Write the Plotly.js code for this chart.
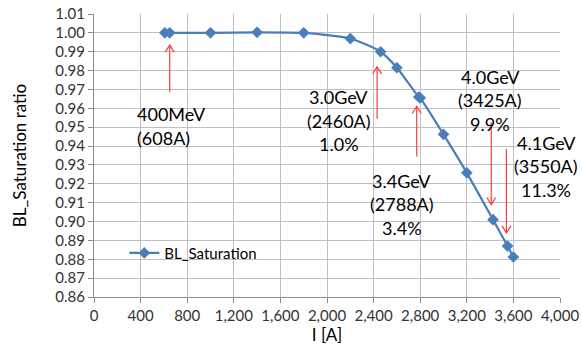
<!DOCTYPE html>
<html>
<head>
<meta charset="utf-8">
<script src="https://cdn.plot.ly/plotly-3.0.1.min.js"></script>
<style>html,body{margin:0;padding:0;background:#fff;}#chart{width:582px;height:352px;}</style>
</head>
<body>
<div id="chart"></div>
<script>
// Data
const currentA = [608, 650, 1000, 1400, 1800, 2200, 2460, 2600, 2788, 2800, 3000, 3200, 3425, 3550, 3600];
const satRatio = [1.000, 1.000, 1.000, 1.0003, 1.000, 0.997, 0.990, 0.9815, 0.966, 0.9655, 0.9462, 0.9258, 0.901, 0.887, 0.8812];
const seriesName = "BL_Saturation";

// Annotation labels (energy, current, percentage)
const noteLines = [
  ["400MeV", "(608A)"],
  ["3.0GeV", "(2460A)", "1.0%"],
  ["3.4GeV", "(2788A)", "3.4%"],
  ["4.0GeV", "(3425A)", "9.9%"],
  ["4.1GeV", "(3550A)", "11.3%"]
];
// label anchor positions [x, y of first line, xanchor]
const notePos = [
  [355, 0.9568, "left"],
  [2100, 0.9660, "center"],
  [2640, 0.9216, "center"],
  [3400, 0.9768, "center"],
  [3880, 0.9418, "center"]
];
// arrows: [x, yFrom, yTo]
const arrows = [
  [650, 0.9685, 0.9935],
  [2430, 0.9545, 0.9820],
  [2770, 0.9345, 0.9610],
  [3410, 0.9525, 0.9090],
  [3540, 0.9385, 0.8940]
];

const xRange = [0, 4000], yRange = [0.86, 1.01];
const margin = {l: 94, r: 22, t: 14, b: 55};
const plotW = 582 - margin.l - margin.r, plotH = 352 - margin.t - margin.b;
const xPerPx = (xRange[1] - xRange[0]) / plotW;
const yPerPx = (yRange[1] - yRange[0]) / plotH;

const shapes = [];
const red = "#ff3b3b";
arrows.forEach(([x, y0, y1]) => {
  shapes.push({type: "line", xref: "x", yref: "y", x0: x, x1: x, y0: y0, y1: y1,
    line: {color: red, width: 1.2}});
  const dir = y1 > y0 ? -1 : 1; // head points toward y1
  const hw = 4.5 * xPerPx, hl = 7 * yPerPx;
  const path = `M ${x - hw} ${y1 + dir * hl} L ${x} ${y1} L ${x + hw} ${y1 + dir * hl}`;
  shapes.push({type: "path", xref: "x", yref: "y", path: path,
    line: {color: red, width: 1.2}});
});

const FONT = "Lato, 'Open Sans', sans-serif";
const annotations = [];
const lineGap = 23.5 * yPerPx;
noteLines.forEach((lines, i) => {
  const [x, y, anchor] = notePos[i];
  lines.forEach((t, j) => {
    annotations.push({x: x, y: y - j * lineGap, xref: "x", yref: "y", text: t,
      showarrow: false, xanchor: anchor, yanchor: "middle",
      font: {family: FONT, size: 18, color: "#000"}});
  });
});

const trace = {
  x: currentA, y: satRatio, name: seriesName, type: "scatter", mode: "lines+markers",
  line: {color: "#4a7ebb", width: 2.2, shape: "spline", smoothing: 0.6},
  marker: {symbol: "diamond", size: 9, color: "#4a7ebb"}
};

const tickFont = {family: FONT, size: 15, color: "#333"};
const layout = {
  width: 582, height: 352, margin: margin,
  paper_bgcolor: "#fff", plot_bgcolor: "#fff",
  showlegend: true,
  legend: {x: 0.065, y: 0.155, xanchor: "left", yanchor: "middle", bgcolor: "rgba(0,0,0,0)",
    font: {family: FONT, size: 15, color: "#000"}},
  xaxis: {range: xRange, dtick: 400, tick0: 0, tickformat: ",d", showgrid: true,
    gridcolor: "#bfbfbf", gridwidth: 1, zeroline: false, showline: true, linecolor: "#8c8c8c",
    ticks: "outside", ticklen: 5, tickcolor: "#8c8c8c", tickfont: tickFont,
    title: {text: "I [A]", font: {family: FONT, size: 17, color: "#000"}, standoff: 6}},
  yaxis: {range: yRange, dtick: 0.01, tick0: 0.86, tickformat: ".2f", showgrid: true,
    gridcolor: "#bfbfbf", gridwidth: 1, zeroline: false, showline: true, linecolor: "#8c8c8c",
    ticks: "outside", ticklen: 5, tickcolor: "#8c8c8c", tickfont: tickFont,
    title: {text: "BL_Saturation ratio", font: {family: FONT, size: 17, color: "#000"}, standoff: 24}},
  shapes: shapes,
  annotations: annotations
};

Plotly.newPlot("chart", [trace], layout, {displayModeBar: false, staticPlot: true});
</script>
</body>
</html>
